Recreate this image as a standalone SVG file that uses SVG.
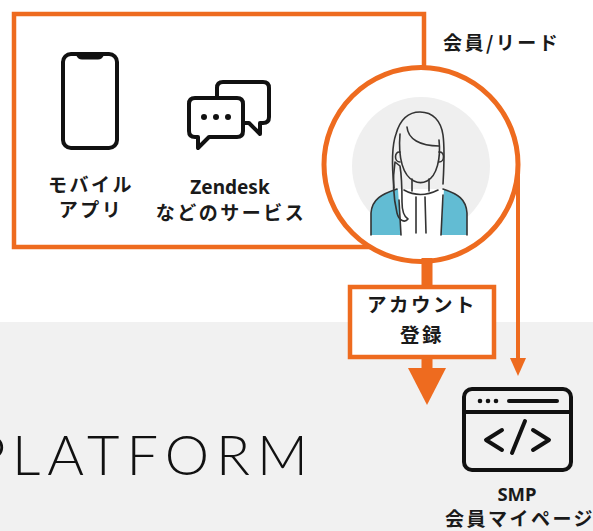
<svg xmlns="http://www.w3.org/2000/svg" width="593" height="531" viewBox="0 0 593 531">
  <defs>
    <style>
      .jp { font-family: "Noto Sans CJK JP", "Noto Sans", sans-serif; fill: #1a1a1a; }
      .lbl { font-size: 19px; font-weight: 700; letter-spacing: 2.5px; }
      .en { font-family: "Noto Sans", "Liberation Sans", sans-serif; font-weight: 700; fill: #1a1a1a; }
      .orange { fill: none; stroke: #ee6b1f; stroke-width: 4.5; }
      .icon { fill: none; stroke: #111; stroke-width: 4; stroke-linejoin: round; stroke-linecap: round; }
      .line { fill: none; stroke: #333; stroke-width: 1.6; stroke-linecap: round; stroke-linejoin: round; }
    </style>
  </defs>

  <!-- page background and platform band -->
  <rect x="0" y="0" width="593" height="531" fill="#ffffff"/>
  <rect x="0" y="322" width="593" height="209" fill="#f1f1f1"/>

  <!-- platform word mark, running off the left edge -->
  <text x="-27" y="475" font-family="Lato, 'Open Sans', sans-serif" font-weight="300" font-size="56" letter-spacing="7" fill="#111">P<tspan x="12">LATFORM</tspan></text>

  <!-- channels box -->
  <g id="channels">
    <path class="orange" d="M424,67 V14 H14 V247 H372"/>

    <!-- mobile app -->
    <g id="mobile-app">
      <rect class="icon" x="63" y="54" width="54" height="94" rx="8" stroke-width="3.5"/>
      <path d="M76,55 Q78,59.5 82,59.5 H98 Q102,59.5 104,55 Z" fill="#111"/>
      <text class="jp lbl" x="91" y="192" text-anchor="middle">モバイル</text>
      <text class="jp lbl" x="91" y="217" text-anchor="middle">アプリ</text>
    </g>

    <!-- zendesk and other services -->
    <g id="zendesk">
      <path class="icon" fill="#fff" d="M223,82 H263 Q269,82 269,88 V117 Q269,123 263,123 H260 V134 L249,123 H223 Q217,123 217,117 V88 Q217,82 223,82 Z"/>
      <path class="icon" style="fill:#fff" d="M195,98 H237 Q243,98 243,104 V131 Q243,137 237,137 H209 L198,148 V137 H195 Q189,137 189,131 V104 Q189,98 195,98 Z"/>
      <circle cx="204" cy="117" r="3" fill="#111"/>
      <circle cx="216" cy="117" r="3" fill="#111"/>
      <circle cx="228" cy="117" r="3" fill="#111"/>
      <text class="en" x="230" y="194" font-size="19" text-anchor="middle">Zendesk</text>
      <text class="jp lbl" x="231" y="220" text-anchor="middle">などのサービス</text>
    </g>
  </g>

  <!-- member / lead -->
  <g id="member">
    <circle cx="421" cy="164.5" r="97" fill="#fff" stroke="#ee6b1f" stroke-width="5"/>
    <circle cx="421" cy="166" r="69" fill="#efefef"/>
    <!-- body -->
    <path d="M371,235 V213 C372,199 382,194 397,189 L443,189 C458,194 466,199 467,213 V235 Z" fill="#62bcd3"/>
    <path d="M398,189 L401,235 H441 L444,189 Z" fill="#fff"/>
    <path class="line" d="M371,235 V213 C372,199 382,194 397,189"/>
    <path class="line" d="M443,189 C458,194 466,199 467,213 V235"/>
    <path class="line" d="M401,235 L399,200"/>
    <path class="line" d="M441,235 L443,195"/>
    <!-- hair back -->
    <path class="line" fill="#fff" d="M394,188 C392,168 391,148 396,134 C400,120 408,112 420,112 C433,112 441,121 443,135 C445,150 444,166 443,184"/>
    <!-- neck and collar -->
    <path class="line" d="M412,179 V191 M429,179 V191"/>
    <path class="line" fill="#fff" d="M404,190 Q420,199 438,190"/>
    <path class="line" d="M416,197 L416,233 M425,197 L426,233"/>
    <!-- face -->
    <path class="line" fill="#fff" d="M400,134 C398,158 403,176 414,181 C418,183 423,183 427,181 C437,176 441,158 439,140"/>
    <path class="line" d="M407,127 C408,139 420,146 439,146"/>
    <!-- ears -->
    <path class="line" fill="#fff" d="M400,152 C394,151 394,162 400,162"/>
    <path class="line" fill="#fff" d="M439,152 C445,151 445,162 439,162"/>
    <!-- hair strand over shoulder -->
    <path class="line" fill="#fff" d="M395,162 C392,182 394,200 397,213 C399,221 405,223 408,219 C403,216 402,210 402,202 C402,190 402,178 400,166 Z"/>
    <text class="jp lbl" x="443" y="50" letter-spacing="3">会員/リード</text>
  </g>

  <!-- smp member page -->
  <g id="smp">
    <rect class="icon" x="464" y="389" width="107" height="81" rx="8" stroke-width="4.5"/>
    <line class="icon" x1="464" y1="412" x2="571" y2="412" stroke-width="4"/>
    <circle cx="480" cy="401" r="2.3" fill="#111"/>
    <circle cx="488" cy="401" r="2.3" fill="#111"/>
    <circle cx="496" cy="401" r="2.3" fill="#111"/>
    <line class="icon" x1="509" y1="401" x2="557" y2="401" stroke-width="4"/>
    <path class="icon" stroke-width="4.5" d="M502,430 L486,440 L502,450"/>
    <path class="icon" stroke-width="4.5" d="M525,421 L512,453"/>
    <path class="icon" stroke-width="4.5" d="M533,430 L549,440 L533,450"/>
    <text class="en" x="517" y="501" font-size="18.5" text-anchor="middle">SMP</text>
    <text class="jp" x="445" y="526" font-size="19" font-weight="700" letter-spacing="2.5">会員マイページ</text>
  </g>

  <!-- connectors -->
  <g id="connectors">
    <!-- account registration -->
    <rect x="421.5" y="258" width="11" height="32" fill="#ee6b1f"/>
    <rect x="421.5" y="355" width="11" height="16" fill="#ee6b1f"/>
    <polygon points="408,368 446,368 427,405" fill="#ee6b1f"/>
    <rect x="350" y="287" width="144" height="70" fill="#fff" stroke="#ee6b1f" stroke-width="4.5"/>
    <text class="jp" x="422" y="312" font-size="19.5" font-weight="700" letter-spacing="2.5" text-anchor="middle">アカウント</text>
    <text class="jp" x="422" y="342" font-size="19.5" font-weight="700" letter-spacing="2.5" text-anchor="middle">登録</text>
    <!-- member to smp -->
    <line x1="518" y1="164" x2="518" y2="362" stroke="#ee6b1f" stroke-width="4"/>
    <polygon points="510,358 526,358 518,376" fill="#ee6b1f"/>
  </g>
</svg>
